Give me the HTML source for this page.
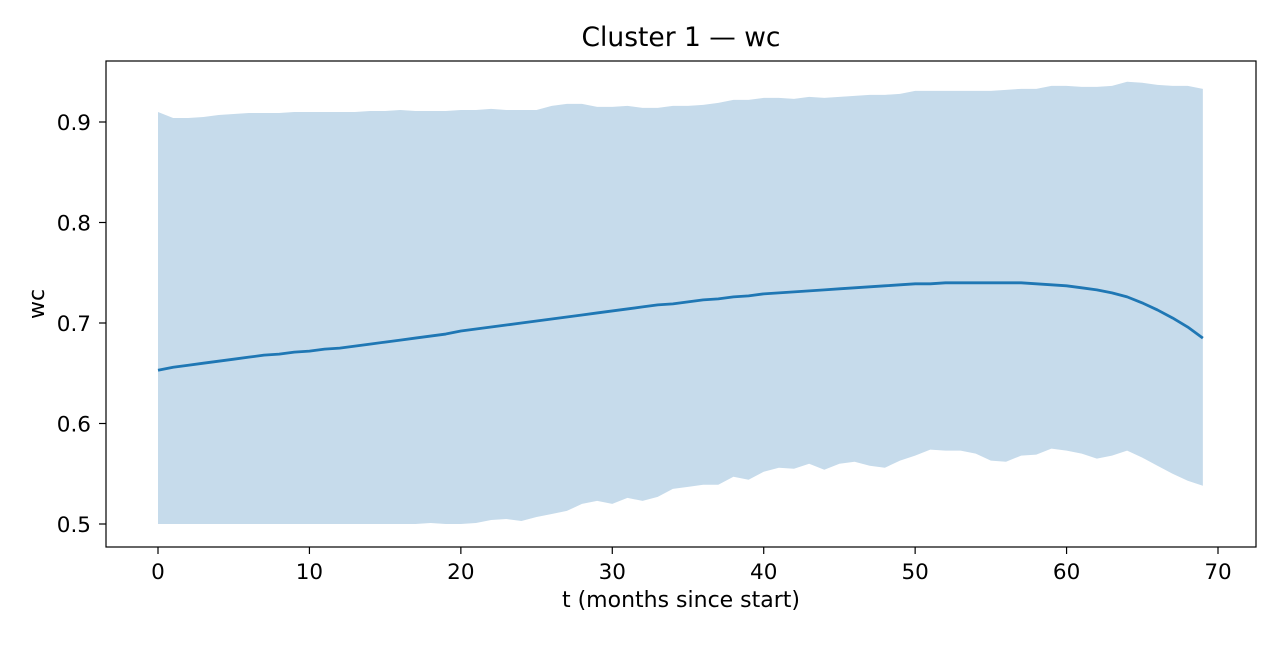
<!DOCTYPE html>
<html><head><meta charset="utf-8"><style>
body{margin:0;background:#fff}
svg text{font-family:"DejaVu Sans","Liberation Sans",sans-serif;fill:#000}
</style></head><body>
<svg id="chart" width="1280" height="640" viewBox="0 0 1280 640">
<rect width="1280" height="640" fill="#fff"/>
<g id="band"></g><g id="line"></g>
<rect x="106" y="61" width="1150" height="486" fill="none" stroke="#000" stroke-width="1.2"/>
<g id="axes"></g>
<text x="681" y="46" font-size="26.5" text-anchor="middle">Cluster 1 — wc</text>
<text x="681" y="607" font-size="22" text-anchor="middle">t (months since start)</text>
<text x="44" y="304" font-size="22" text-anchor="middle" transform="rotate(-90 44 304)">wc</text>
</svg>
<script>
const upper=[0.910,0.904,0.904,0.905,0.907,0.908,0.909,0.909,0.909,0.910,0.910,0.910,0.910,0.910,0.911,0.911,0.912,0.911,0.911,0.911,0.912,0.912,0.913,0.912,0.912,0.912,0.916,0.918,0.918,0.915,0.915,0.916,0.914,0.914,0.916,0.916,0.917,0.919,0.922,0.922,0.924,0.924,0.923,0.925,0.924,0.925,0.926,0.927,0.927,0.928,0.931,0.931,0.931,0.931,0.931,0.931,0.932,0.933,0.933,0.936,0.936,0.935,0.935,0.936,0.940,0.939,0.937,0.936,0.936,0.933];
const lower=[0.500,0.500,0.500,0.500,0.500,0.500,0.500,0.500,0.500,0.500,0.500,0.500,0.500,0.500,0.500,0.500,0.500,0.500,0.501,0.500,0.500,0.501,0.504,0.505,0.503,0.507,0.510,0.513,0.520,0.523,0.520,0.526,0.523,0.527,0.535,0.537,0.539,0.539,0.547,0.544,0.552,0.556,0.555,0.560,0.554,0.560,0.562,0.558,0.556,0.563,0.568,0.574,0.573,0.573,0.570,0.563,0.562,0.568,0.569,0.575,0.573,0.570,0.565,0.568,0.573,0.566,0.558,0.550,0.543,0.538];
const mean=[0.653,0.656,0.658,0.660,0.662,0.664,0.666,0.668,0.669,0.671,0.672,0.674,0.675,0.677,0.679,0.681,0.683,0.685,0.687,0.689,0.692,0.694,0.696,0.698,0.700,0.702,0.704,0.706,0.708,0.710,0.712,0.714,0.716,0.718,0.719,0.721,0.723,0.724,0.726,0.727,0.729,0.730,0.731,0.732,0.733,0.734,0.735,0.736,0.737,0.738,0.739,0.739,0.740,0.740,0.740,0.740,0.740,0.740,0.739,0.738,0.737,0.735,0.733,0.730,0.726,0.720,0.713,0.705,0.696,0.685];
const xTicks=[0,10,20,30,40,50,60,70];
const yTicks=[0.5,0.6,0.7,0.8,0.9];
const X=t=>158+t*(1218-158)/70;
const Y=v=>524-(v-0.5)*(524-122)/0.4;
const NS='http://www.w3.org/2000/svg';
function mk(tag,attrs,parent){const e=document.createElementNS(NS,tag);for(const k in attrs)e.setAttribute(k,attrs[k]);parent.appendChild(e);return e;}
let d='';
upper.forEach((v,i)=>{d+=(i?'L':'M')+X(i)+','+Y(v);});
for(let i=lower.length-1;i>=0;i--)d+='L'+X(i)+','+Y(lower[i]);
const band=mk('path',{d:d+'Z',fill:'#c6dbeb'},document.getElementById('band'));


let ld='';
mean.forEach((v,i)=>{ld+=(i?'L':'M')+X(i)+','+Y(v);});
const ln=mk('path',{d:ld,fill:'none',stroke:'#1f77b4','stroke-width':2.8,'stroke-linejoin':'round'},document.getElementById('line'));


const ax=document.getElementById('axes');
xTicks.forEach(t=>{
  const tk=mk('line',{x1:X(t),x2:X(t),y1:547,y2:554,stroke:'#000','stroke-width':1.2},ax);
  
  
  const tx=mk('text',{x:X(t),y:579,'font-size':21.5,'text-anchor':'middle'},ax);
  tx.textContent=t;
  
  
});
yTicks.forEach(v=>{
  const tk=mk('line',{x1:99,x2:106,y1:Y(v),y2:Y(v),stroke:'#000','stroke-width':1.2},ax);
  
  
  const tx=mk('text',{x:91,y:Y(v)+8,'font-size':21.5,'text-anchor':'end'},ax);
  tx.textContent=v.toFixed(1);
  
  
});
</script>
</body></html>
